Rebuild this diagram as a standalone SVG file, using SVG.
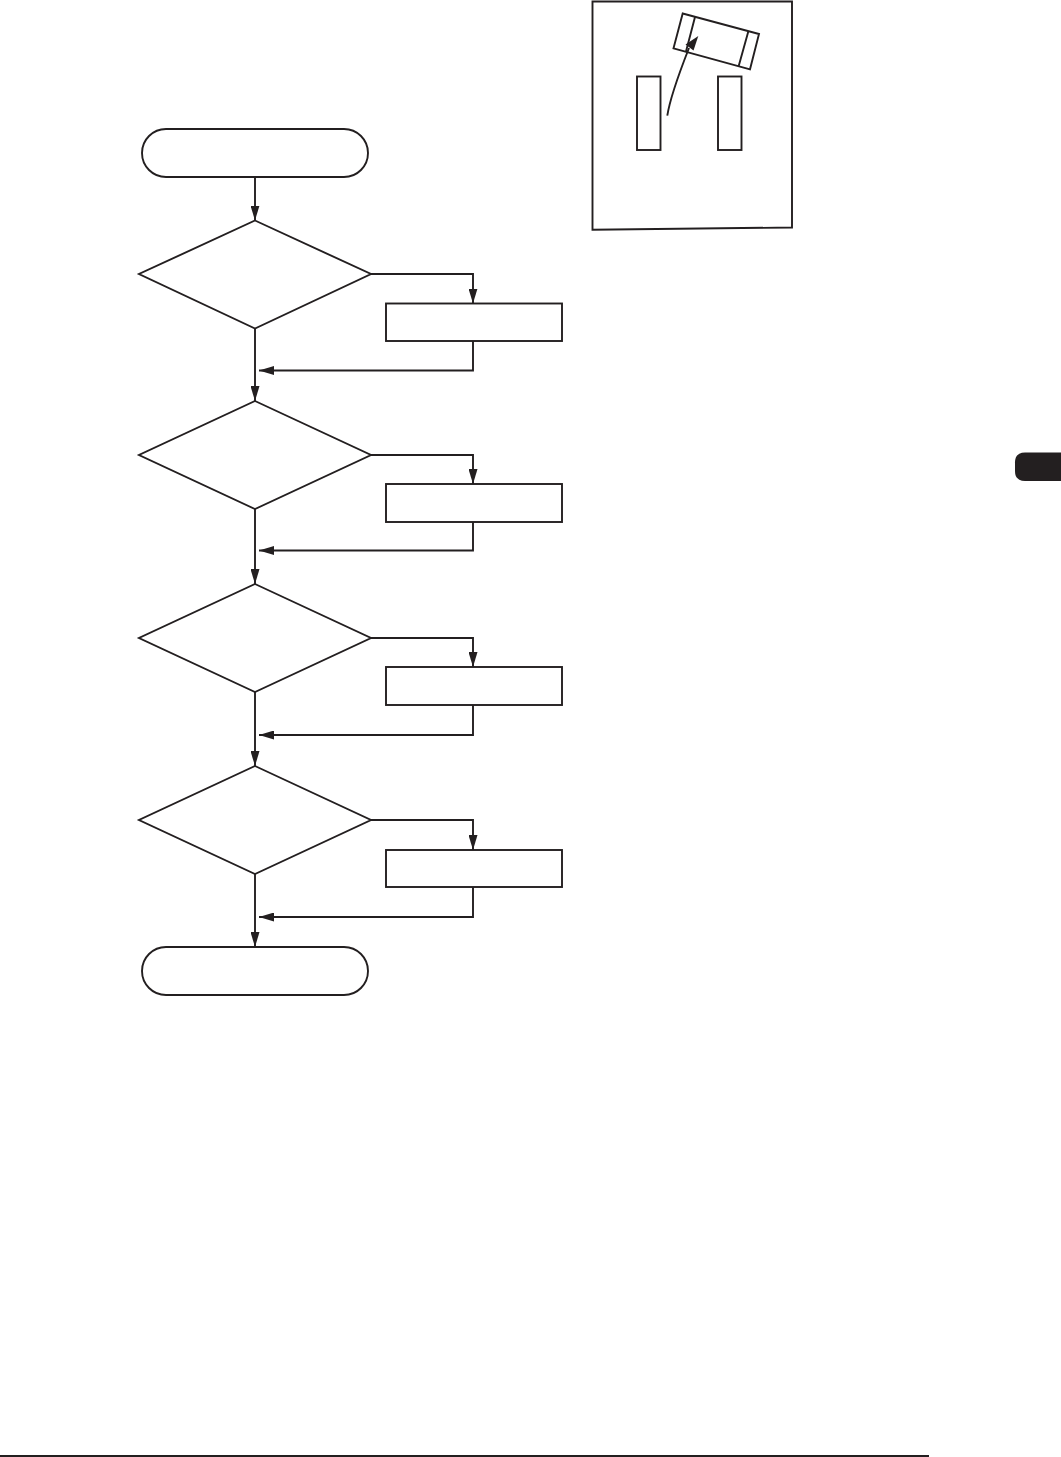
<svg xmlns="http://www.w3.org/2000/svg" width="1061" height="1457" viewBox="0 0 1061 1457">
<style>
.s{fill:#fff;stroke:#231f20;stroke-width:1.9}
.c{fill:none;stroke:#231f20;stroke-width:1.9}
</style>
<defs>
<marker id="a" markerUnits="userSpaceOnUse" markerWidth="15" markerHeight="9" refX="15" refY="4.500" orient="auto"><path d="M0 0L15 4.500L0 9Z" fill="#231f20"/></marker>
</defs>
<rect width="1061" height="1457" fill="#fff"/>
<g id="connectors">
<path class="c" marker-end="url(#a)" d="M255 177V220.500"/>
<path class="c" marker-end="url(#a)" d="M255 328.500V401"/>
<path class="c" marker-end="url(#a)" d="M255 509V584"/>
<path class="c" marker-end="url(#a)" d="M255 692V766"/>
<path class="c" marker-end="url(#a)" d="M255 874V947"/>
<path class="c" marker-end="url(#a)" d="M370.500 274H473V303.500"/>
<path class="c" marker-end="url(#a)" d="M473 341V370.500H259"/>
<path class="c" marker-end="url(#a)" d="M371 455H473V484"/>
<path class="c" marker-end="url(#a)" d="M473 522V550.500H259"/>
<path class="c" marker-end="url(#a)" d="M371 638H473V667"/>
<path class="c" marker-end="url(#a)" d="M473 705V735H259"/>
<path class="c" marker-end="url(#a)" d="M371 820H473V850"/>
<path class="c" marker-end="url(#a)" d="M473 887V917H259"/>
</g>
<g id="start"><rect class="s" x="142" y="129" width="226" height="48" rx="24"/></g>
<g id="decision1"><path class="s" d="M255 220.500L371 274L255 328.500L139 274Z"/></g>
<g id="process1"><rect class="s" x="386" y="303.500" width="176" height="37.500"/></g>
<g id="decision2"><path class="s" d="M255 401L371 455L255 509L139 455Z"/></g>
<g id="process2"><rect class="s" x="386" y="484" width="176" height="38"/></g>
<g id="decision3"><path class="s" d="M255 584L371 638L255 692L139 638Z"/></g>
<g id="process3"><rect class="s" x="386" y="667" width="176" height="38"/></g>
<g id="decision4"><path class="s" d="M255 766L371 820L255 874L139 820Z"/></g>
<g id="process4"><rect class="s" x="386" y="850" width="176" height="37"/></g>
<g id="end"><rect class="s" x="142" y="947" width="226" height="48" rx="24"/></g>
<g id="inset">
<path class="s" d="M592.500 1.500H792V227.500L592.500 229.800Z"/>
<rect class="s" x="637" y="76.500" width="23.500" height="73.500"/>
<rect class="s" x="718" y="76.500" width="23.500" height="73.500"/>
<path class="s" d="M682.700 13.500L759 34L750 69.300L673.500 48.300Z"/>
<path class="c" d="M695 17L686 51.500M748.300 31.500L738.700 66"/>
<path class="c" d="M667.300 115.700C670 98 678 76 689 48"/>
<path d="M698.300 36L693.500 50.500L685.500 44.500Z" fill="#231f20"/>
</g>
<g id="tab"><path d="M1061 452.500H1025Q1015 452.500 1015 462.500V471Q1015 481 1025 481H1061Z" fill="#231f20"/></g>
<path id="rule" d="M0 1456H929" stroke="#231f20" stroke-width="2" fill="none"/>
</svg>
